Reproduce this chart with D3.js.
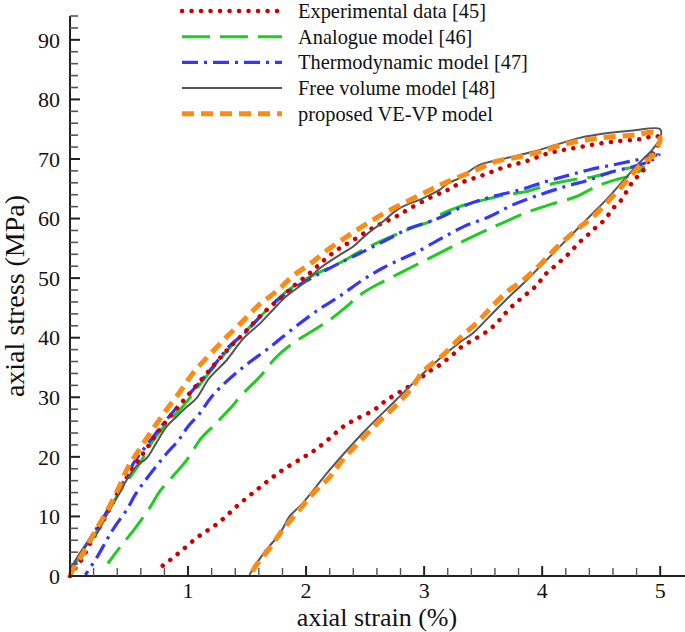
<!DOCTYPE html>
<html><head><meta charset="utf-8">
<script src="https://cdn.jsdelivr.net/npm/d3@7"></script>
<style>
html,body{margin:0;padding:0;background:#fff;}
svg text{font-family:"Liberation Serif","Times New Roman",serif;fill:#111;}
</style></head>
<body><svg id="chart" width="685" height="632"></svg>
<script>
// ---------- DATA (strain %, stress MPa) ----------
const seriesNames = ["Experimental data [45]","Analogue model [46]","Thermodynamic model [47]","Free volume model [48]","proposed VE-VP model"];
const yTicks = [0,10,20,30,40,50,60,70,80,90];
const xTicks = [1,2,3,4,5];

const expLoad = [[0,0],[0.04,1.2],[0.10,2.8],[0.18,5.8],[0.28,9.2],[0.38,13.0],[0.48,16.5],[0.59,19.7],[0.68,22.3],[0.76,24.6],[0.90,28.0],[1.05,31.5],[1.21,35.2],[1.33,37.9],[1.47,40.7],[1.64,44.2],[1.80,46.9],[1.89,48.6],[2.03,50.8],[2.14,52.8],[2.26,54.7],[2.40,56.4],[2.59,58.7],[2.74,60.1],[2.88,61.7],[3.07,63.7],[3.20,64.8],[3.30,65.9],[3.50,67.3],[3.69,68.7],[3.86,69.6],[4.06,71.0],[4.26,71.8],[4.46,72.5],[4.65,73.0],[4.82,73.3],[4.98,73.8]];
const expUnload = [[5.0,73.8],[4.98,72.4],[4.92,70.4],[4.85,67.9],[4.78,66.5],[4.74,65.4],[4.67,63.1],[4.60,61.7],[4.53,59.8],[4.46,58.6],[4.39,57.3],[4.31,55.9],[4.24,54.4],[4.17,53.1],[4.10,51.9],[4.02,50.5],[3.96,48.9],[3.89,47.7],[3.81,46.4],[3.72,44.8],[3.64,43.0],[3.55,41.3],[3.44,39.9],[3.32,38.5],[3.24,37.1],[3.13,35.4],[3.04,34.3],[2.93,32.6],[2.82,31.2],[2.68,29.5],[2.57,27.8],[2.43,26.4],[2.31,25.0],[2.17,22.6],[2.05,20.8],[1.95,19.6],[1.78,17.5],[1.61,14.9],[1.43,12.0],[1.25,8.8],[1.08,6.5],[0.90,3.5],[0.77,1.5]];

const anaUpper = [[0,0],[0.03,1.6],[0.10,3.8],[0.20,6.6],[0.28,9.4],[0.38,12.8],[0.48,15.8],[0.59,18.9],[0.70,22.6],[0.82,25.6],[0.97,28.8],[1.13,32.9],[1.27,36.3],[1.38,38.9],[1.47,40.7],[1.64,44.1],[1.83,47.7],[2.06,50.5],[2.28,52.5],[2.45,54.4],[2.62,56.1],[2.82,57.8],[2.93,58.7],[3.05,59.5],[3.13,60.6],[3.30,62.0],[3.50,63.1],[3.69,64.0],[3.86,64.5],[4.06,65.7],[4.26,66.5],[4.43,67.0],[4.60,67.9],[4.74,68.5],[4.86,68.6]];
const anaLower = [[4.86,68.6],[4.77,67.3],[4.62,66.5],[4.46,65.4],[4.29,63.7],[4.06,62.3],[3.89,61.2],[3.69,59.5],[3.50,57.8],[3.30,55.9],[3.13,54.2],[2.93,52.2],[2.79,50.8],[2.62,49.1],[2.48,47.5],[2.31,44.7],[2.20,43.0],[2.06,41.2],[1.89,39.1],[1.75,36.8],[1.61,33.5],[1.44,30.1],[1.37,28.4],[1.21,25.1],[1.11,23.1],[0.99,19.5],[0.87,16.7],[0.76,14.2],[0.68,11.6],[0.54,7.7],[0.45,5.5],[0.32,2.1]];

const thermUpper = [[0,0],[0.03,1.8],[0.11,4.4],[0.20,7.2],[0.28,9.7],[0.38,13.3],[0.47,16.4],[0.54,19.0],[0.62,21.2],[0.69,23.0],[0.76,24.8],[0.87,27.5],[1.04,31.2],[1.21,35.1],[1.35,38.6],[1.48,40.8],[1.61,43.5],[1.75,46.2],[1.92,48.6],[2.09,50.5],[2.28,52.5],[2.48,54.4],[2.68,56.4],[2.88,58.4],[3.05,59.5],[3.15,60.3],[3.36,62.3],[3.58,63.7],[3.81,64.8],[4.03,66.2],[4.23,67.3],[4.40,68.2],[4.60,69.0],[4.79,69.8],[4.91,70.4],[4.99,70.7]];
const thermLower = [[4.99,70.7],[4.93,69.8],[4.77,68.7],[4.60,67.9],[4.40,66.5],[4.20,65.4],[3.98,64.0],[3.75,62.3],[3.55,60.3],[3.33,58.6],[3.13,56.5],[2.95,54.5],[2.85,53.6],[2.65,51.7],[2.48,49.7],[2.28,46.9],[2.12,44.9],[1.92,42.0],[1.75,39.3],[1.66,37.9],[1.47,35.1],[1.27,31.6],[1.18,29.6],[1.10,27.3],[1.00,25.1],[0.92,22.8],[0.82,20.6],[0.73,18.4],[0.64,16.1],[0.56,13.9],[0.48,11.1],[0.38,8.3],[0.31,6.0],[0.23,3.2],[0.13,0.2]];

const freeLoad = [[0,1.0],[0.11,4.6],[0.23,7.2],[0.31,10.2],[0.40,13.3],[0.48,16.1],[0.56,18.4],[0.65,19.8],[0.73,22.3],[0.82,25.1],[0.90,26.7],[0.99,28.4],[1.07,29.8],[1.18,33.2],[1.33,36.3],[1.47,39.9],[1.61,42.4],[1.72,44.7],[1.83,46.9],[1.97,49.0],[2.12,51.7],[2.31,54.2],[2.40,55.3],[2.51,57.3],[2.61,58.8],[2.79,61.7],[2.99,63.4],[3.13,64.8],[3.20,65.9],[3.30,66.8],[3.47,69.0],[3.69,70.1],[3.92,71.2],[4.12,72.4],[4.31,73.5],[4.54,74.3],[4.77,74.8],[5.0,75.0]];
const freeUnload = [[5.0,75.0],[5.0,73.5],[4.93,71.5],[4.82,69.3],[4.68,66.2],[4.54,63.1],[4.40,60.3],[4.26,57.5],[4.12,54.7],[3.98,51.9],[3.84,49.1],[3.69,46.3],[3.55,43.5],[3.41,40.7],[3.30,39.2],[3.05,35.1],[2.76,29.5],[2.48,24.0],[2.20,17.8],[1.97,12.2],[1.86,10.0],[1.78,7.2],[1.64,3.8],[1.52,0.2]];

const propLoad = [[0,0],[0.014,0.7],[0.11,3.8],[0.21,7.4],[0.31,10.8],[0.41,14.7],[0.49,18.2],[0.59,21.3],[0.70,24.6],[0.81,27.7],[0.93,30.9],[1.04,34.0],[1.18,37.1],[1.33,40.2],[1.46,42.7],[1.60,45.5],[1.75,47.8],[1.89,50.4],[2.04,52.5],[2.20,55.0],[2.37,57.3],[2.52,59.2],[2.69,61.2],[2.88,63.1],[3.05,64.8],[3.20,66.2],[3.41,67.9],[3.61,69.6],[3.81,70.4],[3.98,71.2],[4.17,72.4],[4.37,73.2],[4.57,73.7],[4.77,74.0],[4.96,74.4]];
const propUnload = [[4.96,74.4],[5.0,73.5],[4.99,72.6],[4.93,70.4],[4.85,69.3],[4.71,66.2],[4.57,63.1],[4.43,60.3],[4.29,58.1],[4.13,55.3],[3.98,52.2],[3.84,49.7],[3.69,47.5],[3.55,44.7],[3.44,42.4],[3.30,39.9],[3.16,37.1],[2.99,34.3],[2.88,31.2],[2.74,28.2],[2.59,25.4],[2.45,22.5],[2.31,19.5],[2.19,16.4],[2.06,13.9],[1.93,10.8],[1.80,7.7],[1.69,4.6],[1.57,1.6],[1.54,0.5]];

// ---------- LAYOUT ----------
const svg = d3.select("#chart");
const x = d3.scaleLinear().domain([0, 5.21]).range([70, 685]);
const y = d3.scaleLinear().domain([0, 94]).range([576, 16]);

const styles = [
  {color:"#cc0000", width:4.5, dash:"0.1 9.4", cap:"round"},
  {color:"#1fcc1f", width:3,   dash:"28 10",   cap:"butt"},
  {color:"#3535ff", width:3.2, dash:"16 6 3 6", cap:"butt"},
  {color:"#555555", width:2,   dash:null,      cap:"butt"},
  {color:"#ff8a14", width:5,   dash:"12 7",    cap:"butt"}
];
const paths = [
  expLoad.concat(expUnload.slice(1)),
  anaUpper.concat(anaLower.slice(1)),
  thermUpper.concat(thermLower.slice(1)),
  freeLoad.concat(freeUnload.slice(1)),
  propLoad.concat(propUnload.slice(1))
];

const line = d3.line().x(d => x(d[0])).y(d => y(d[1])).curve(d3.curveCatmullRom.alpha(0.5));

const drawOrder = [1,2,0,3,4];
drawOrder.forEach(i => {
  const s = styles[i];
  svg.append("path").datum(paths[i])
    .attr("d", line).attr("fill","none")
    .attr("stroke", s.color).attr("stroke-width", s.width)
    .attr("stroke-linecap", s.cap).attr("stroke-linejoin","round")
    .attr("stroke-dasharray", s.dash);
});

// ---------- AXES ----------
const ax = svg.append("g").attr("stroke","#222");
ax.append("line").attr("x1",x(0)).attr("x2",x(5.21)).attr("y1",y(0)).attr("y2",y(0)).attr("stroke-width",2);
ax.append("line").attr("x1",x(0)).attr("x2",x(0)).attr("y1",y(0)).attr("y2",y(94)).attr("stroke-width",2);

d3.range(0, 95, 2).forEach(v => {
  const major = v % 10 === 0;
  ax.append("line").attr("x1",x(0)).attr("x2",x(0)+(major?10:8))
    .attr("y1",y(v)).attr("y2",y(v)).attr("stroke-width",major?2:1.6)
    .attr("stroke", major?"#222":"#555");
});
d3.range(0, 26).map(i => i*0.2).forEach(v => {
  const major = Math.abs(v - Math.round(v)) < 1e-6;
  ax.append("line").attr("x1",x(v)).attr("x2",x(v))
    .attr("y1",y(0)).attr("y2",y(0)-(major?10:8)).attr("stroke-width",major?2:1.4)
    .attr("stroke", major?"#222":"#555");
});

svg.append("g").selectAll("text").data(yTicks).join("text")
  .attr("x", 60).attr("y", d => y(d)).attr("dy","0.35em")
  .attr("text-anchor","end").attr("font-size",22).text(d => d);
svg.append("g").selectAll("text").data(xTicks).join("text")
  .attr("x", d => x(d)).attr("y", 598)
  .attr("text-anchor","middle").attr("font-size",22).text(d => d);

svg.append("text").attr("x", 377).attr("y", 625.5).attr("text-anchor","middle")
  .attr("font-size",26).text("axial strain (%)");
svg.append("text").attr("transform","translate(24,296) rotate(-90)")
  .attr("text-anchor","middle").attr("font-size",28).text("axial stress (MPa)");

// ---------- LEGEND ----------
const lg = svg.append("g");
seriesNames.forEach((name, i) => {
  const s = styles[i];
  const yy = 11 + i*25.7;
  lg.append("line").attr("x1",182).attr("x2",282).attr("y1",yy).attr("y2",yy)
    .attr("stroke",s.color).attr("stroke-width",s.width)
    .attr("stroke-linecap",s.cap).attr("stroke-dasharray",s.dash);
  lg.append("text").attr("x",298).attr("y",yy+7).attr("font-size",20.4).text(name);
});
</script></body></html>
